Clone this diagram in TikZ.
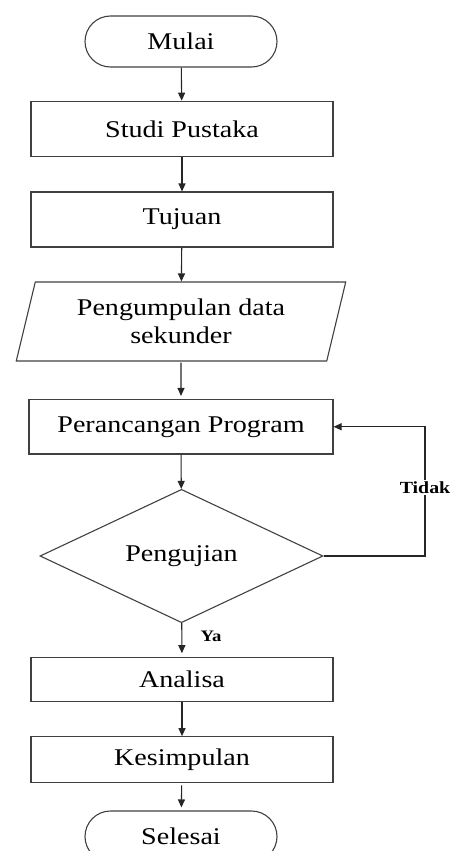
\documentclass[tikz,border=0pt]{standalone}
\usepackage{fontspec}
\setmainfont{Liberation Serif}[FakeStretch=1.17]
\usetikzlibrary{arrows.meta,shapes.geometric,shapes.misc}
\begin{document}
\begin{tikzpicture}[x=1pt,y=-1pt,
  line width=1.1pt,
  every node/.style={font=\fontsize{24}{27.5}\selectfont},
  proc/.style={draw=black!75, rectangle, minimum width=302pt, inner sep=0pt, align=center},
  term/.style={draw=black!75, rounded rectangle, minimum width=192pt, minimum height=51pt, inner sep=0pt},
  io/.style={draw=black!75, trapezium, trapezium left angle=73, trapezium right angle=107,
     trapezium stretches=true, minimum width=330pt, minimum height=79pt, inner sep=0pt, align=center},
  decision/.style={draw=black!75, diamond, minimum width=283pt, minimum height=130pt, inner sep=0pt},
  arr/.style={draw=black!85, -{Triangle[length=8pt,width=7pt]}},
  lab/.style={font=\fontsize{17}{20}\selectfont\bfseries, fill=white, inner sep=2pt}
]
\useasboundingbox (0,0) rectangle (453,851);
\clip (0,0) rectangle (453,851);
\node[term] (mulai) at (181,41.5) {Mulai};
\node[proc, minimum height=55.5pt] (studi) at (182,129) {Studi Pustaka};
\node[proc, minimum height=55pt] (tujuan) at (182,219.5) {Tujuan};
\node[io] (data) at (181,321.5) {Pengumpulan data\\sekunder};
\node[proc, minimum width=304pt, minimum height=54.5pt] (rancang) at (181,426.75) {Perancangan Program};
\node[decision] (uji) at (181.5,556) {Pengujian};
\node[proc, minimum height=43.5pt] (analisa) at (182,679.5) {Analisa};
\node[proc, minimum height=46pt] (simpul) at (182,759.7) {Kesimpulan};
\node[term] (selesai) at (181,836.5) {Selesai};
\coordinate (loop) at (425,556);

\draw[arr] (mulai) -- (studi);
\draw[arr] (studi) -- (tujuan);
\draw[arr] (tujuan) -- (data);
\draw[arr, shorten >=3pt, shorten <=1pt] (data) -- (rancang);
\draw[arr] (rancang) -- (uji);
\draw[arr, shorten >=4pt] (uji) -- (analisa);
\draw[arr] (analisa) -- (simpul);
\draw[arr, shorten >=3pt, shorten <=2pt] (simpul) -- (selesai);
\draw[arr] (uji.east) -- (loop) |- node[lab, pos=0.265] (tidak) {Tidak} (rancang.east);
\node[lab, font=\fontsize{16}{19}\selectfont\bfseries] (ya) at (211,636) {Ya};
\end{tikzpicture}
\end{document}
